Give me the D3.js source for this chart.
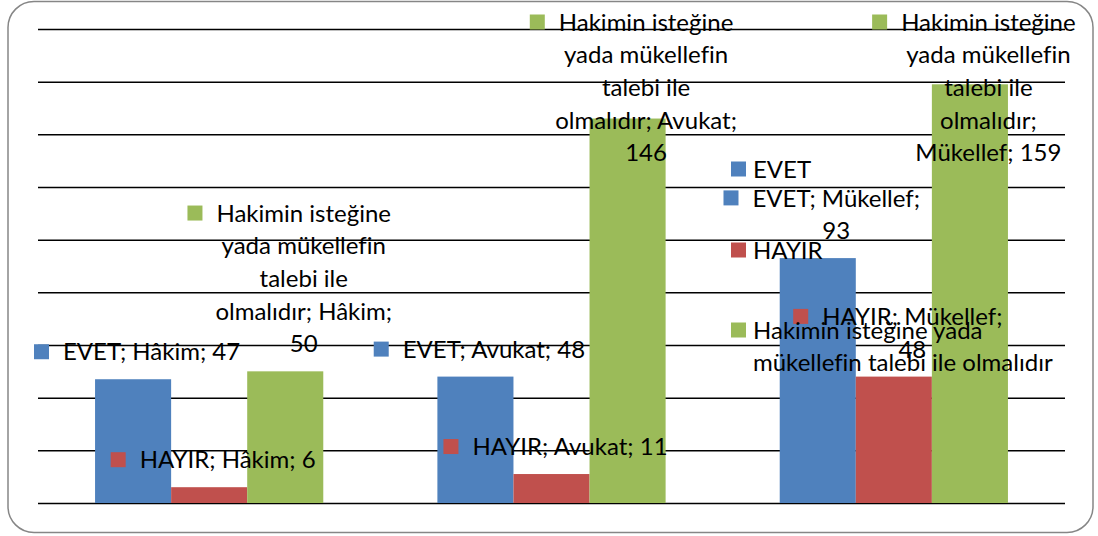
<!DOCTYPE html>
<html>
<head>
<meta charset="utf-8">
<script src="https://cdn.jsdelivr.net/npm/d3@7"></script>
<style>
  body { margin: 0; background: #fff; }
  text { font-family: Lato, "Open Sans", sans-serif; fill: #000; font-variant-ligatures: none; }
</style>
</head>
<body>
<script>
const categories = ['Hâkim', 'Avukat', 'Mükellef']
const seriesNames = ['EVET', 'HAYIR', 'Hakimin isteğine yada mükellefin talebi ile olmalıdır']
const evet = [47, 48, 93]
const hayir = [6, 11, 48]
const hakimin = [50, 146, 159]
const yTicks = [0, 20, 40, 60, 80, 100, 120, 140, 160, 180]
// how the series names break inside the data labels
const seriesLabelLines = [['EVET'], ['HAYIR'], ['Hakimin isteğine', 'yada mükellefin', 'talebi ile', 'olmalıdır']]

const colors = ['#4F81BD', '#C0504D', '#9BBB59']
const seriesValues = [evet, hayir, hakimin]

const W = 1098, H = 536
const plot = { left: 38, right: 1065, top: 29, bottom: 503 }
const fontSize = 24
const lineH = 32.7

const svg = d3.select('body').append('svg')
    .attr('width', W)
    .attr('height', H)

// chart border
svg.append('rect')
    .attr('x', 8)
    .attr('y', 1.5)
    .attr('width', 1085)
    .attr('height', 531)
    .attr('rx', 26)
    .style('fill', '#fff')
    .style('stroke', '#868686')
    .style('stroke-width', 1.5)

const x0 = d3.scaleBand()
    .domain(categories)
    .range([plot.left, plot.right])
    .paddingInner(1 / 3)
    .paddingOuter(1 / 6)

const x1 = d3.scaleBand()
    .domain(seriesNames)
    .range([0, x0.bandwidth()])

const yScale = d3.scaleLinear()
    .domain([0, 180])
    .range([plot.bottom, plot.top])

// gridlines
svg.append('g')
    .attr('class', 'grid')
    .attr('transform', `translate(${plot.left}, 0)`)
    .call(d3.axisLeft(yScale).tickValues(yTicks).tickSize(-(plot.right - plot.left)).tickFormat(''))
    .call(g => g.select('.domain').remove())
    .call(g => g.selectAll('line').style('stroke', '#000').style('stroke-width', 1.5))

const bars = []
categories.forEach((cat, ci) => {
    seriesNames.forEach((s, si) => {
        bars.push({ cat, series: s, si, value: seriesValues[si][ci] })
    })
})

svg.selectAll('.bar')
    .data(bars)
    .enter().append('rect')
    .attr('class', 'bar')
    .attr('x', d => x0(d.cat) + x1(d.series))
    .attr('y', d => yScale(d.value))
    .attr('width', x1.bandwidth())
    .attr('height', d => plot.bottom - yScale(d.value))
    .style('fill', d => colors[d.si])

// text width measurer
const measure = svg.append('text').style('font-size', fontSize + 'px').style('visibility', 'hidden')
const textWidth = str => { measure.text(str); return measure.node().getComputedTextLength() }

function wrap(str, maxW) {
    const words = str.split(' ')
    const lines = []
    let cur = ''
    words.forEach(w => {
        const test = cur ? cur + ' ' + w : w
        if (cur && textWidth(test) > maxW) {
            lines.push(cur)
            cur = w
        } else {
            cur = test
        }
    })
    lines.push(cur)
    return lines
}

// data labels (series; category; value) with legend key
const labels = svg.append('g').attr('class', 'labels')
bars.forEach(d => {
    const nameLines = seriesLabelLines[d.si]
    const tail = wrap(`${nameLines[nameLines.length - 1]}; ${d.cat}; ${d.value}`, 197)
    const lines = nameLines.slice(0, -1).concat(tail)
    const cx = x0(d.cat) + x1(d.series) + x1.bandwidth() / 2 + 18.5
    let firstY = yScale(d.value) - 27.5 - (lines.length - 1) * lineH
    if (firstY < 22) firstY = 22
    const g = labels.append('g')
    lines.forEach((ln, i) => {
        g.append('text')
            .attr('x', cx)
            .attr('y', firstY + i * lineH)
            .attr('dy', '0.36em')
            .style('text-anchor', 'middle')
            .style('font-size', fontSize + 'px')
            .text(ln)
    })
    const firstStart = cx - textWidth(lines[0]) / 2
    g.append('rect')
        .attr('x', firstStart - 14 - 15)
        .attr('y', firstY - 7.5)
        .attr('width', 15)
        .attr('height', 15)
        .style('fill', colors[d.si])
})

// legend
const legendY = [169, 250, 330]
const legend = svg.append('g').attr('class', 'legend')
seriesNames.forEach((s, i) => {
    const lines = i === 2 ? wrap(s, 300) : [s]
    legend.append('rect')
        .attr('x', 731)
        .attr('y', legendY[i] - 7.5)
        .attr('width', 15)
        .attr('height', 15)
        .style('fill', colors[i])
    lines.forEach((ln, j) => {
        legend.append('text')
            .attr('x', 753)
            .attr('y', legendY[i] + j * lineH)
            .attr('dy', '0.36em')
            .style('font-size', fontSize + 'px')
            .text(ln)
    })
})
measure.remove()
</script>
</body>
</html>
